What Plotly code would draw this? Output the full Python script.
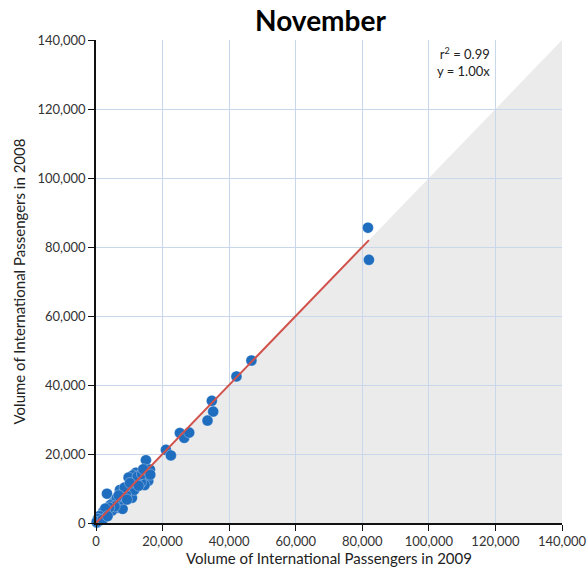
import plotly.graph_objects as go

# International passenger volumes per airport, November
pax_2009 = [81700, 82000, 46700, 42200, 34800, 35200, 33500, 25200, 26500, 28000,
            21000, 22500, 15000, 16200, 15700, 14600, 12000, 11000, 9800, 9500,
            10800, 11500, 13500, 7200, 3300, 5200, 6600, 8000, 7500, 6200,
            4300, 2200, 3000, 1200, 1800, 500, 300, 800, 1500, 2500,
            3800, 4800, 5600, 9000, 8600, 12500, 13800, 14200, 10200, 6800,
            4000, 2800, 1000, 600, 200, 2000, 3500, 12800, 9300, 16300]
pax_2008 = [85600, 76300, 47100, 42500, 35400, 32300, 29700, 26100, 24700, 26200,
            21200, 19600, 18200, 15500, 12200, 11000, 14600, 13800, 13200, 10500,
            7300, 9600, 11800, 9600, 8500, 5900, 4400, 4100, 6800, 7200,
            5200, 3300, 2600, 1400, 2200, 400, 100, 600, 900, 1600,
            3000, 3600, 4800, 8200, 10300, 13500, 14200, 15600, 11600, 8000,
            4500, 4200, 2000, 1200, 300, 1000, 2000, 10800, 6800, 14000]

slope = 1.00
r_squared = 0.99
axis_max = 140000
tick_vals = [0, 20000, 40000, 60000, 80000, 100000, 120000, 140000]
tick_text = [f"{v:,}" for v in tick_vals]

font_family = "Lato, 'Open Sans', sans-serif"
grid_color = "#c9d7ea"

fig = go.Figure()

# Fitted line through the origin
fit_x = [0, max(pax_2009)]
fit_y = [slope * v for v in fit_x]

fig.add_trace(go.Scatter(
    x=pax_2009, y=pax_2008, mode="markers",
    marker=dict(color="#1f6dbf", size=11, line=dict(color="rgba(255,255,255,0.5)", width=0.6)),
    cliponaxis=False, showlegend=False,
))
fig.add_trace(go.Scatter(
    x=fit_x, y=fit_y, mode="lines",
    line=dict(color="#d1524c", width=2),
    cliponaxis=False, showlegend=False,
))

# Shaded region below the y = x diagonal
fig.add_shape(
    type="path",
    path=f"M 0 0 L {axis_max} 0 L {axis_max} {axis_max} Z",
    xref="x", yref="y",
    fillcolor="#ebebeb", line=dict(width=0), layer="below",
)

fig.add_annotation(
    x=119000, y=139000, xref="x", yref="y",
    text=f"r<sup>2</sup> = {r_squared:.2f}<br>y = {slope:.2f}x",
    showarrow=False, xanchor="right", yanchor="top", align="right",
    font=dict(family=font_family, size=13, color="#222"),
)

axis_common = dict(
    range=[0, axis_max],
    tickvals=tick_vals, ticktext=tick_text,
    showgrid=True, gridcolor=grid_color, gridwidth=1,
    zeroline=False, automargin=False,
    showline=True, linecolor="#111", linewidth=1.5,
    ticks="outside", ticklen=6, tickcolor="#111", tickwidth=1.2,
    tickfont=dict(family=font_family, size=13, color="#333"),
)

fig.update_layout(
    width=588, height=573,
    margin=dict(l=96, r=26, t=40, b=50),
    paper_bgcolor="white", plot_bgcolor="white",
    title=dict(
        text="<b>November</b>", x=0.545, xanchor="center",
        y=0.963, yanchor="middle", xref="container", yref="container",
        font=dict(family=font_family, size=28, color="#000"),
    ),
    xaxis=dict(
        **axis_common,
        title=dict(text="Volume of International Passengers in 2009", standoff=2,
                   font=dict(family=font_family, size=15, color="#222")),
    ),
    yaxis=dict(
        **axis_common,
        title=dict(text="Volume of International Passengers in 2008", standoff=8,
                   font=dict(family=font_family, size=15, color="#222")),
    ),
)

fig.write_html("out.html")
